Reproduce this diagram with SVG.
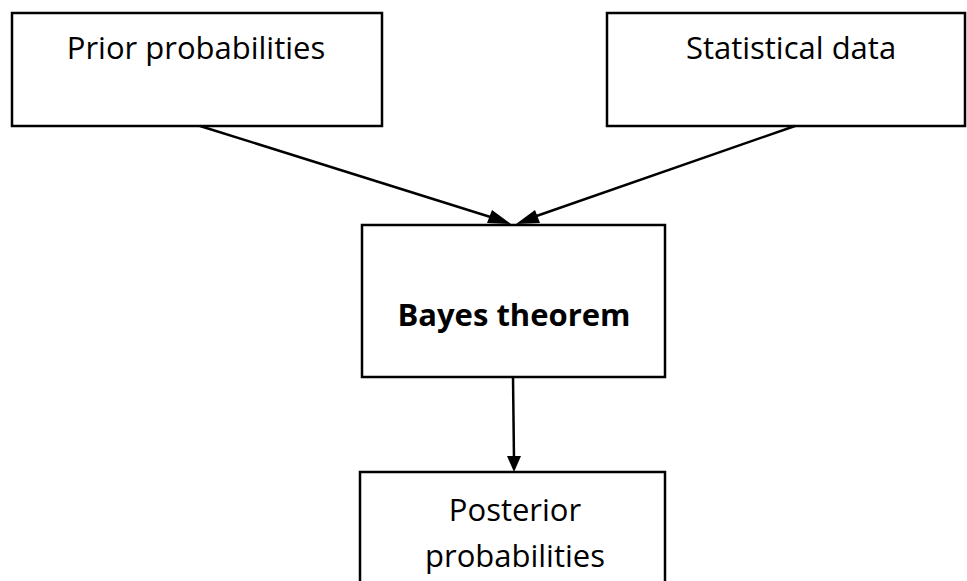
<svg xmlns="http://www.w3.org/2000/svg" width="967" height="581" viewBox="0 0 967 581">
<style>
.box{fill:#fff;stroke:#000;stroke-width:2.5}
.t{font-family:"Open Sans","Liberation Sans",sans-serif;font-size:31px;fill:#000;text-anchor:middle}
.b{font-weight:bold}
.c{stroke:#000;stroke-width:2.5;fill:none}
.h{fill:#000}
</style>
<g id="prior"><rect class="box" x="12" y="13" width="370" height="113"/><text class="t" x="196" y="59">Prior probabilities</text></g>
<g id="stat"><rect class="box" x="607" y="13" width="358" height="113"/><text class="t" x="791" y="59">Statistical data</text></g>
<g id="bayes"><rect class="box" x="362" y="225" width="303" height="152"/><text class="t b" x="514" y="326">Bayes theorem</text></g>
<g id="post"><rect class="box" x="360" y="472" width="305" height="120"/><text class="t" x="515" y="521">Posterior</text><text class="t" x="515" y="567">probabilities</text></g>
<g id="connectors">
<line class="c" x1="200" y1="126" x2="500" y2="220"/>
<path class="h" d="M511,224 L492,210 L487,223 z"/>
<line class="c" x1="795" y1="126" x2="525" y2="220"/>
<path class="h" d="M516,224 L535,210 L540,223 z"/>
<line class="c" x1="513" y1="377" x2="514" y2="460"/>
<path class="h" d="M514,472 L507,456 L521,456 z"/>
</g>
</svg>
